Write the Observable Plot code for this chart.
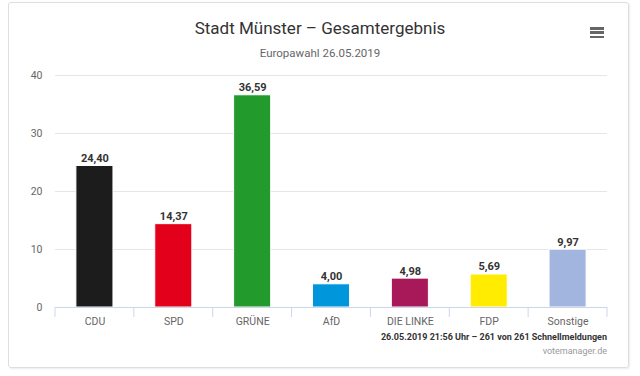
<!DOCTYPE html>
<html>
<head>
<meta charset="utf-8">
<script src="https://cdn.jsdelivr.net/npm/d3@7"></script>
<script src="https://cdn.jsdelivr.net/npm/@observablehq/plot@0.6"></script>
<style>
  html, body { margin: 0; padding: 0; background: #fff; width: 640px; height: 376px; overflow: hidden; font-family: Roboto, "Open Sans", sans-serif; }
  #card { position: absolute; left: 8px; top: 2px; width: 619px; height: 364px; border: 1px solid #dedede; border-radius: 3px; box-shadow: 1px 1px 2px rgba(0,0,0,0.08); }
  .center { position: absolute; left: 0; width: 640px; text-align: center; white-space: nowrap; }
  #title { top: 18px; font-size: 17px; color: #333; }
  #subtitle { top: 46px; font-size: 11.5px; color: #666; }
  #menu { position: absolute; left: 590px; top: 27px; width: 14px; }
  #menu div { height: 2.5px; background: #666; margin-bottom: 1.8px; }
  #chart { position: absolute; left: 0; top: 60px; }
  .credit { position: absolute; right: 33px; white-space: nowrap; text-align: right; }
  #credit1 { top: 332px; font-size: 9px; font-weight: bold; color: #333; }
  #credit2 { top: 346px; font-size: 9px; color: #999; }
</style>
</head>
<body>
<div id="card"></div>
<div id="title" class="center">Stadt Münster – Gesamtergebnis</div>
<div id="subtitle" class="center">Europawahl 26.05.2019</div>
<div id="menu"><div></div><div></div><div></div></div>
<div id="chart"></div>
<div id="credit1" class="credit">26.05.2019 21:56 Uhr – 261 von 261 Schnellmeldungen</div>
<div id="credit2" class="credit">votemanager.de</div>
<script>
const parties = ["CDU", "SPD", "GRÜNE", "AfD", "DIE LINKE", "FDP", "Sonstige"];
const shares = [24.40, 14.37, 36.59, 4.00, 4.98, 5.69, 9.97];
const partyColors = ["#1c1c1c", "#e2001a", "#229a2c", "#0096db", "#a8195a", "#ffec00", "#a2b5df"];
const yTicks = [0, 10, 20, 30, 40];

const data = parties.map((p, i) => ({party: p, value: shares[i], color: partyColors[i]}));
const fmt = v => d3.format(".2f")(v).replace(".", ",");

const chart = Plot.plot({
  width: 640,
  height: 280,
  marginTop: 15,
  marginBottom: 33,
  marginLeft: 55,
  marginRight: 33,
  style: {fontFamily: "Roboto, sans-serif", fontSize: "10px", color: "#666", background: "transparent"},
  x: {domain: parties, paddingInner: 0.53, paddingOuter: 0.265, round: false, label: null},
  y: {domain: [0, 40], label: null},
  marks: [
    Plot.gridY(yTicks.slice(1), {stroke: "#e6e6e6", strokeOpacity: 1}),
    Plot.barY(data, {x: "party", y: "value", fill: d => d.color, stroke: "#fff", strokeWidth: 1}),
    Plot.ruleY([0], {stroke: "#ccd6eb", strokeWidth: 1}),
    Plot.text(data, {x: "party", y: "value", text: d => fmt(d.value), lineAnchor: "bottom", dy: -4, fontWeight: "bold", fontSize: 11, fill: "#333"}),
    Plot.axisY(yTicks, {tickSize: 0, tickPadding: 13, fill: "#666", fontSize: 10.5}),
    Plot.axisX({tickSize: 0, tickPadding: 10, fill: "#666", fontSize: 10.5})
  ]
});
document.getElementById("chart").appendChild(chart);

// category separator ticks at band boundaries (Highcharts-style), derived from the x scale
const xs = chart.scale("x");
const ys = chart.scale("y");
const y0 = ys.apply(0);
const svg = d3.select(chart);
const bounds = parties.map(p => xs.apply(p) + xs.bandwidth / 2 - xs.step / 2);
bounds.push(xs.apply(parties[parties.length - 1]) + xs.bandwidth / 2 + xs.step / 2);
svg.append("g").selectAll("line").data(bounds).join("line")
  .attr("x1", d => d).attr("x2", d => d)
  .attr("y1", y0).attr("y2", y0 + 10)
  .attr("stroke", "#ccd6eb");
</script>
</body>
</html>
